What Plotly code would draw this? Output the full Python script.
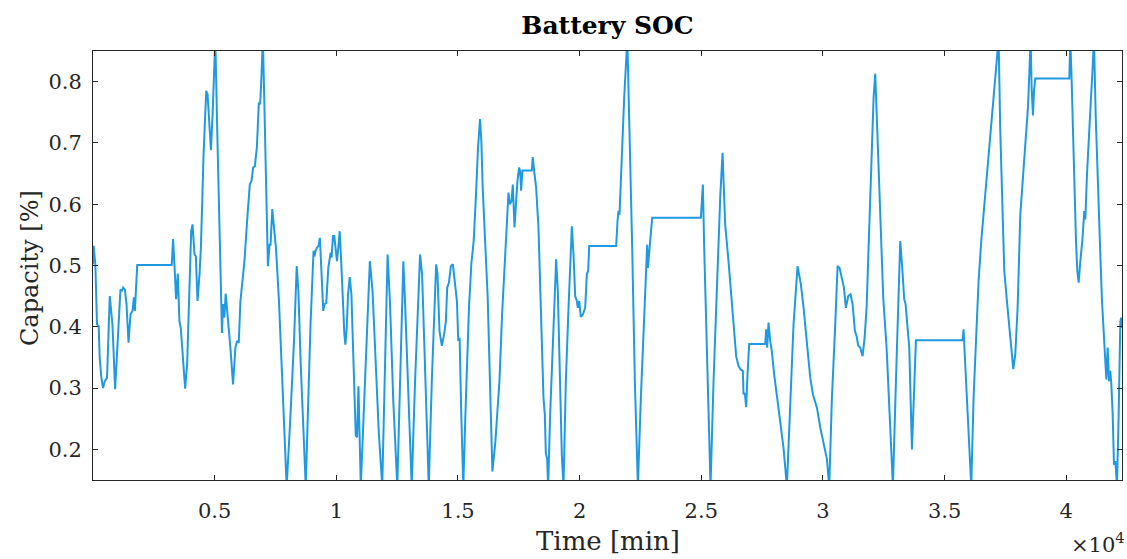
import plotly.graph_objects as go

# Time [min]
time_min = [
    0, 28, 96, 165, 234, 275, 344, 413, 482, 578, 689, 799, 909, 1129, 1184, 1239, 1308, 1377, 1460, 1542,
    1625, 1680, 1721, 1763, 1818, 3236, 3291, 3346, 3415, 3484, 3553, 3608, 3704, 3787, 3869, 3966, 4035, 4090,
    4172, 4227, 4296, 4379, 4434, 4544, 4654, 4709, 4778, 4847, 4916, 5026, 5122, 5232, 5301, 5343, 5398, 5453,
    5536, 5646, 5756, 5852, 5921, 5990, 6059, 6224, 6334, 6444, 6513, 6582, 6651, 6734, 6816, 6871, 6926, 6981,
    7037, 7119, 7188, 7257, 7298, 7367, 7519, 7643, 7780, 7959, 8097, 8262, 8372, 8441, 8537, 8634, 8743,
    8830, 8940, 9064, 9105, 9146, 9201, 9270, 9325, 9394, 9463, 9518, 9587, 9670, 9725, 9766, 9807, 9862, 9917,
    9972, 10027, 10082, 10138, 10206, 10275, 10331, 10372, 10427, 10482, 10551, 10620, 10689, 10758, 10799,
    10854, 10909, 11006, 11130, 11240, 11309, 11378, 11488, 11625, 11749, 11887, 11997, 12107, 12203, 12341,
    12506, 12616, 12754, 12823, 12960, 13098, 13236, 13332, 13442, 13525, 13649, 13800, 13924, 14034, 14103,
    14158, 14240, 14337, 14433, 14502, 14557, 14626, 14709, 14791, 14860, 14957, 15012, 15067, 15136, 15218,
    15314, 15452, 15548, 15645, 15741, 15823, 15906, 15961, 16016, 16126, 16222, 16332, 16414, 16538, 16703,
    16813, 16951, 17020, 17075, 17130, 17199, 17254, 17323,
    17390, 17444, 17513, 17554, 17595, 17650, 18034, 18075, 18130, 18212, 18308, 18377, 18445, 18514, 18569,
    18610, 18665, 18706, 18788, 18925, 19035, 19104, 19200, 19268, 19337, 19433, 19543, 19611, 19680, 19748,
    19817, 19885, 19926, 19981, 20050, 20132, 20228, 20296, 20351, 20392, 21502, 21557, 21598, 21639, 21735,
    21831, 21960, 22050, 22160, 22269, 22393, 22516, 22626, 22735, 22776, 22804, 22872, 22927, 22982, 24982,
    25064, 25119, 25229, 25311, 25379, 25503, 25640, 25777, 25873,
    25981, 26118, 26255, 26351, 26433, 26529, 26625, 26707, 26735, 26790, 26844, 26899, 26968, 27626, 27667,
    27708, 27763, 27831, 27900, 27996, 28106, 28243, 28380, 28517, 28654, 28791, 28956, 29093, 29203, 29340,
    29477, 29586, 29682, 29751, 29888, 30025, 30162, 30258, 30368, 30505, 30601, 30683, 30765, 30861, 30943,
    31039, 31135, 31217, 31313, 31382, 31450, 31532, 31628, 31711, 31793, 31889, 31999, 32081, 32149, 32231,
    32341, 32478, 32615, 32752, 32875, 32999, 33095, 33177, 33259, 33341, 33396, 33478, 33547, 33657, 33753,
    33821,
    35738, 35779, 35834, 35944, 36026, 36094, 36190, 36300, 36396, 36506, 36602, 36684, 36739, 36808, 36876,
    36945, 37013, 37082, 37150, 37219, 37287, 37369, 37452, 37561, 37671, 37739, 37822, 37904, 38000, 38110,
    38192, 38274, 38356, 38425, 38480, 38535, 38576, 38631, 38672, 38727, 40125, 40166, 40221, 40303, 40399,
    40454, 40509, 40577, 40659, 40741, 40783, 40851, 40933, 41016, 41070, 41139, 41207, 41303, 41399, 41468,
    41536, 41605, 41646, 41701, 41756, 41810, 41852, 41907, 41961, 42016, 42084, 42153, 42221, 42262, 42290,
]

# Battery state of charge
soc = [
    0.502, 0.532, 0.502, 0.404, 0.401, 0.349, 0.317, 0.300, 0.311, 0.317, 0.450, 0.404, 0.298, 0.461, 0.458,
    0.464, 0.461, 0.437, 0.374, 0.420, 0.426, 0.448, 0.426, 0.453, 0.501, 0.501, 0.543, 0.502, 0.445, 0.487,
    0.409, 0.398, 0.347, 0.299, 0.339, 0.475, 0.556, 0.567, 0.518, 0.515, 0.442, 0.486, 0.529, 0.681, 0.785,
    0.779, 0.730, 0.688, 0.747, 0.870, 0.692, 0.475, 0.390, 0.437, 0.415, 0.454, 0.420, 0.366, 0.306, 0.366,
    0.377, 0.374, 0.442, 0.507, 0.573, 0.632, 0.638, 0.660, 0.662, 0.692, 0.766, 0.763, 0.812, 0.870, 0.774,
    0.622, 0.499, 0.534, 0.534, 0.592, 0.529, 0.442, 0.311, 0.140, 0.241, 0.377, 0.499, 0.458, 0.339, 0.230,
    0.140,
    0.257, 0.404, 0.524, 0.515, 0.524, 0.529, 0.532, 0.545, 0.486, 0.426, 0.437, 0.439, 0.496, 0.507, 0.521,
    0.513, 0.548, 0.548, 0.529, 0.507, 0.529, 0.556, 0.502, 0.431, 0.388, 0.371, 0.398, 0.453, 0.481, 0.453,
    0.377, 0.284, 0.222, 0.220, 0.303, 0.140, 0.257, 0.366, 0.442, 0.507, 0.458, 0.339, 0.225, 0.140, 0.339,
    0.518, 0.442, 0.279, 0.140, 0.311, 0.507, 0.442, 0.284, 0.140, 0.311, 0.420, 0.518, 0.486, 0.328, 0.140,
    0.311, 0.420, 0.502, 0.486, 0.393, 0.369, 0.388, 0.409, 0.464, 0.472, 0.499, 0.502, 0.480, 0.442, 0.377,
    0.382, 0.257, 0.140, 0.268, 0.431, 0.502, 0.540, 0.616, 0.692, 0.739, 0.703, 0.627, 0.540, 0.447, 0.284,
    0.164, 0.213, 0.311, 0.420, 0.518, 0.573, 0.619, 0.600, 0.605, 0.632, 0.562,
    0.605, 0.638, 0.660, 0.654, 0.622, 0.655, 0.655, 0.677, 0.654, 0.627, 0.562, 0.475, 0.366, 0.284, 0.257,
    0.194, 0.184, 0.140, 0.257, 0.393, 0.510, 0.458, 0.311, 0.191, 0.140, 0.311, 0.431, 0.507, 0.564, 0.518,
    0.450, 0.442, 0.431, 0.442, 0.416, 0.420, 0.431, 0.486, 0.491, 0.532, 0.532, 0.573, 0.589, 0.583, 0.692,
    0.774, 0.870, 0.736, 0.529, 0.311, 0.140, 0.284, 0.393, 0.496, 0.534, 0.496, 0.529, 0.551, 0.578, 0.578,
    0.632, 0.529, 0.366, 0.230, 0.140, 0.311, 0.475, 0.611, 0.684,
    0.567, 0.507, 0.442, 0.393, 0.352, 0.336, 0.330, 0.328, 0.290, 0.292, 0.269, 0.322, 0.372, 0.372, 0.396,
    0.366, 0.407, 0.377, 0.360, 0.322, 0.290, 0.246, 0.202, 0.140, 0.284, 0.404, 0.499, 0.469, 0.431, 0.377,
    0.317, 0.290, 0.276, 0.268, 0.236, 0.208, 0.184, 0.140, 0.284, 0.404, 0.499, 0.496, 0.480, 0.464, 0.431,
    0.450, 0.453, 0.437, 0.393, 0.385, 0.369, 0.366, 0.352, 0.382, 0.431, 0.556, 0.692, 0.774, 0.813, 0.720,
    0.583, 0.447, 0.366, 0.257, 0.140, 0.311, 0.447, 0.540, 0.496, 0.445, 0.437, 0.398, 0.366, 0.200, 0.311,
    0.378,
    0.378, 0.396, 0.349, 0.257, 0.202, 0.140, 0.284, 0.393, 0.475, 0.540, 0.583, 0.622, 0.638, 0.676, 0.711,
    0.736, 0.768, 0.801, 0.826, 0.870, 0.720, 0.611, 0.491, 0.442, 0.393, 0.366, 0.331, 0.355, 0.431, 0.583,
    0.627, 0.665, 0.709, 0.758, 0.812, 0.870, 0.790, 0.745, 0.785, 0.805, 0.805, 0.870, 0.801, 0.665, 0.540,
    0.491, 0.472, 0.507, 0.540, 0.589, 0.575, 0.649, 0.720, 0.774, 0.812, 0.870, 0.747, 0.611, 0.518, 0.442,
    0.393, 0.344, 0.314, 0.366, 0.311, 0.328, 0.306, 0.257, 0.175, 0.181, 0.140, 0.257, 0.409, 0.415, 0.398,
]

x_tick_vals = [5000, 10000, 15000, 20000, 25000, 30000, 35000, 40000]
x_tick_text = ["0.5", "1", "1.5", "2", "2.5", "3", "3.5", "4"]
y_tick_vals = [0.2, 0.3, 0.4, 0.5, 0.6, 0.7, 0.8]
y_tick_text = ["0.2", "0.3", "0.4", "0.5", "0.6", "0.7", "0.8"]

FONT = "DejaVu Serif"
TXT = "#262626"
AX = "#262626"

fig = go.Figure()
fig.add_trace(go.Scatter(
    x=time_min, y=soc, mode="lines",
    line=dict(color="#1f9ae0", width=2),
    showlegend=False, hoverinfo="skip",
))

axis_common = dict(
    showgrid=False, zeroline=False, showline=True, linecolor=AX, linewidth=1,
    mirror="ticks", ticks="inside", ticklen=5, tickwidth=1, tickcolor=AX,
    tickfont=dict(family=FONT, size=21, color=TXT),
)

fig.update_layout(
    width=1127, height=559,
    margin=dict(l=93, r=5, t=51, b=79),
    paper_bgcolor="white", plot_bgcolor="white",
    title=dict(text="<b>Battery SOC</b>", x=0.5, xref="paper", y=1 - 25 / 559, yref="container",
               xanchor="center", yanchor="middle", font=dict(family=FONT, size=25, color="#000000")),
    xaxis=dict(range=[0, 42290], tickvals=x_tick_vals, ticktext=x_tick_text,
               ticklabelstandoff=12, **axis_common),
    yaxis=dict(range=[0.15, 0.85], tickvals=y_tick_vals, ticktext=y_tick_text,
               ticklabelstandoff=6, **axis_common),
    annotations=[
        dict(text="Time [min]", xref="paper", yref="paper", x=0.5, y=(480 - 541) / 429,
             xanchor="center", yanchor="middle", showarrow=False,
             font=dict(family=FONT, size=26, color=TXT)),
        dict(text="Capacity [%]", xref="paper", yref="paper", x=(30 - 93) / 1029, y=(480 - 268) / 429,
             xanchor="center", yanchor="middle", showarrow=False, textangle=-90,
             font=dict(family=FONT, size=24, color=TXT)),
        dict(text="×10<sup>4</sup>", xref="paper", yref="paper", x=(1127 - 93) / 1029, y=(480 - 543) / 429,
             xanchor="right", yanchor="middle", showarrow=False,
             font=dict(family=FONT, size=21, color=TXT)),
    ],
)

fig.write_html(
    "out.html",
    config={"displayModeBar": False},
    post_script="document.body.style.margin='0';document.body.style.overflow='hidden';",
)
